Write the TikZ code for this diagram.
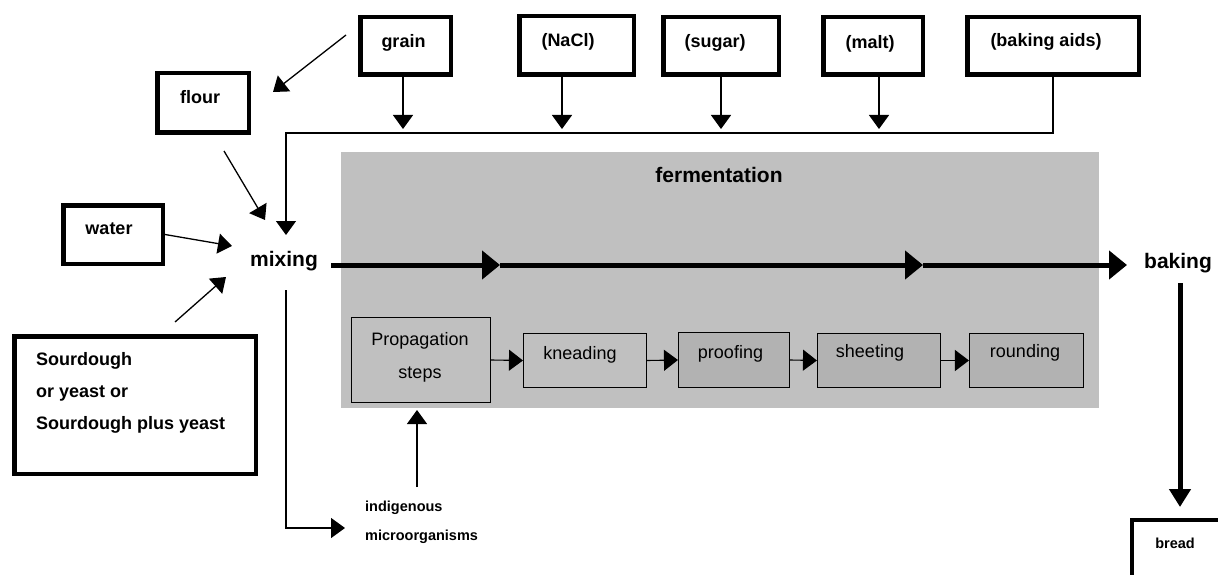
\documentclass[tikz,border=0pt]{standalone}
\usepackage{fontspec}
\setmainfont{Liberation Sans}
\usetikzlibrary{arrows.meta}
\definecolor{bggray}{HTML}{C0C0C0}
\definecolor{boxgray}{HTML}{B2B2B2}
\begin{document}
\begin{tikzpicture}[x=1pt,y=-1pt,
  ibox/.style={draw, line width=4.5pt, fill=white, inner sep=0pt},
  lbl/.style={font=\fontsize{18}{20}\selectfont\bfseries, inner sep=0pt},
  slbl/.style={font=\fontsize{14.5}{16}\selectfont\bfseries, inner sep=0pt},
  big/.style={font=\fontsize{21}{24}\selectfont\bfseries, inner sep=0pt},
  sbox/.style={draw, line width=1.1pt, inner sep=0pt},
  stxt/.style={font=\fontsize{18}{20}\selectfont, inner sep=0pt},
  conn/.style={line width=1.3pt, -{Triangle[length=14pt,width=20pt]}},
  sconn/.style={line width=1.1pt, -{Triangle[length=14pt,width=21pt]}},
  main/.style={line width=5pt, -{Triangle[length=18pt,width=28pt]}},
  down/.style={line width=5pt, -{Triangle[length=18pt,width=21pt]}}
]
\clip (0,0) rectangle (1218,575);
\useasboundingbox (0,0) rectangle (1218,575);

% fermentation area
\node[fill=bggray, inner sep=0pt, minimum width=758pt, minimum height=256pt] (ferm) at (720,280) {};
\node[big] (fermlbl) at (719,175) {fermentation};

% input boxes
\node[ibox, minimum width=90.5pt, minimum height=57.5pt] (grain) at (405.5,46) {};
\node[lbl] (grainT) at (403.5,43) {grain};
\node[ibox, minimum width=91.5pt, minimum height=59.5pt] (flour) at (203,103) {};
\node[lbl] (flourT) at (200,97) {flour};
\node[ibox, minimum width=114.5pt, minimum height=58.5pt] (nacl) at (576.5,45.5) {};
\node[lbl] (naclT) at (568,42) {(NaCl)};
\node[ibox, minimum width=115.5pt, minimum height=57.5pt] (sugar) at (721,46) {};
\node[lbl] (sugarT) at (715,43) {(sugar)};
\node[ibox, minimum width=99.5pt, minimum height=57.5pt] (malt) at (873,46) {};
\node[lbl] (maltT) at (870,44) {(malt)};
\node[ibox, minimum width=171.5pt, minimum height=57.5pt] (aids) at (1053,46) {};
\node[lbl] (aidsT) at (1046,42) {(baking aids)};
\node[ibox, minimum width=99.5pt, minimum height=58.5pt] (water) at (113,234.5) {};
\node[lbl] (waterT) at (109,229) {water};
\node[ibox, minimum width=241.5pt, minimum height=137.5pt] (sour) at (135,405) {};
\node[lbl, anchor=west, align=left, font=\fontsize{18}{32}\selectfont\bfseries] (sourT) at (36,393) {Sourdough\\or yeast or\\Sourdough plus yeast};
\node[ibox, minimum width=98pt, minimum height=80pt] (bread) at (1181,560) {};
\node[slbl] (breadT) at (1175,543) {bread};

% process labels
\node[big] (mixing) at (284,261) {mixing};
\node[big] (baking) at (1178,263) {baking};
\node[slbl, anchor=west, align=left, font=\fontsize{14.5}{29}\selectfont\bfseries] (indig) at (365,522) {indigenous\\microorganisms};

% fermentation steps
\node[sbox, fill=bggray, minimum width=139pt, minimum height=85pt] (prop) at (421,360) {};
\node[stxt] (propT1) at (420,341) {Propagation};
\node[stxt] (propT2) at (420,375) {steps};
\node[sbox, fill=bggray, minimum width=123pt, minimum height=54pt] (knead) at (585,360.5) {};
\node[stxt] (kneadT) at (580,355) {kneading};
\node[sbox, fill=boxgray, minimum width=111pt, minimum height=55pt] (proof) at (734,360) {};
\node[stxt] (proofT) at (730.5,354) {proofing};
\node[sbox, fill=boxgray, minimum width=123pt, minimum height=54pt] (sheet) at (879,360.5) {};
\node[stxt] (sheetT) at (870,353) {sheeting};
\node[sbox, fill=boxgray, minimum width=114pt, minimum height=54pt] (round) at (1026.5,360.5) {};
\node[stxt] (roundT) at (1025,353) {rounding};

\draw[sconn] (prop.east) -- (knead.west);
\draw[sconn] (knead.east) -- (proof.west);
\draw[sconn] (proof.east) -- (sheet.west);
\draw[sconn] (sheet.east) -- (round.west);

% coordinates for free ends
\coordinate (gf1) at (346,35);
\coordinate (gf2) at (273,92);
\coordinate (fm1) at (224,151);
\coordinate (fm2) at (265,220);
\coordinate (wm) at (232,246);
\coordinate (sm1) at (175,322);
\coordinate (sm2) at (226,277);
\coordinate (gA) at (403,129);
\coordinate (nA) at (562,129);
\coordinate (suA) at (721,129);
\coordinate (mA) at (879,129);
\coordinate (aC) at (1053,133);
\coordinate (lC) at (286,133);
\coordinate (mixIn) at (286,235);
\coordinate (mixOut) at (286,290);
\coordinate (mixCorner) at (286,528);
\coordinate (indA) at (345,528);
\coordinate (indUp) at (417,487);
\coordinate (propIn) at (417,410);
\coordinate (t0) at (331,265);
\coordinate (t1) at (500,265);
\coordinate (t2) at (923,265);
\coordinate (t3) at (1127,265);
\coordinate (b0) at (1180,283);
\coordinate (b1) at (1180,507);

% connectors
\draw[conn] (gf1) -- (gf2);
\draw[conn] (fm1) -- (fm2);
\draw[conn] (water.east) -- (wm);
\draw[conn] (sm1) -- (sm2);
\draw[conn] (gA |- grain.south) -- (gA);
\draw[conn] (nA |- nacl.south) -- (nA);
\draw[conn] (suA |- sugar.south) -- (suA);
\draw[conn] (mA |- malt.south) -- (mA);
\draw[conn] (aC |- aids.south) -- (aC) -- (lC) -- (mixIn);
\draw[conn] (mixOut) -- (mixCorner) -- (indA);
\draw[conn] (indUp) -- (propIn);

\draw[main] (t0) -- (t1);
\draw[main] (t1) -- (t2);
\draw[main] (t2) -- (t3);
\draw[down] (b0) -- (b1);
\end{tikzpicture}
\end{document}
